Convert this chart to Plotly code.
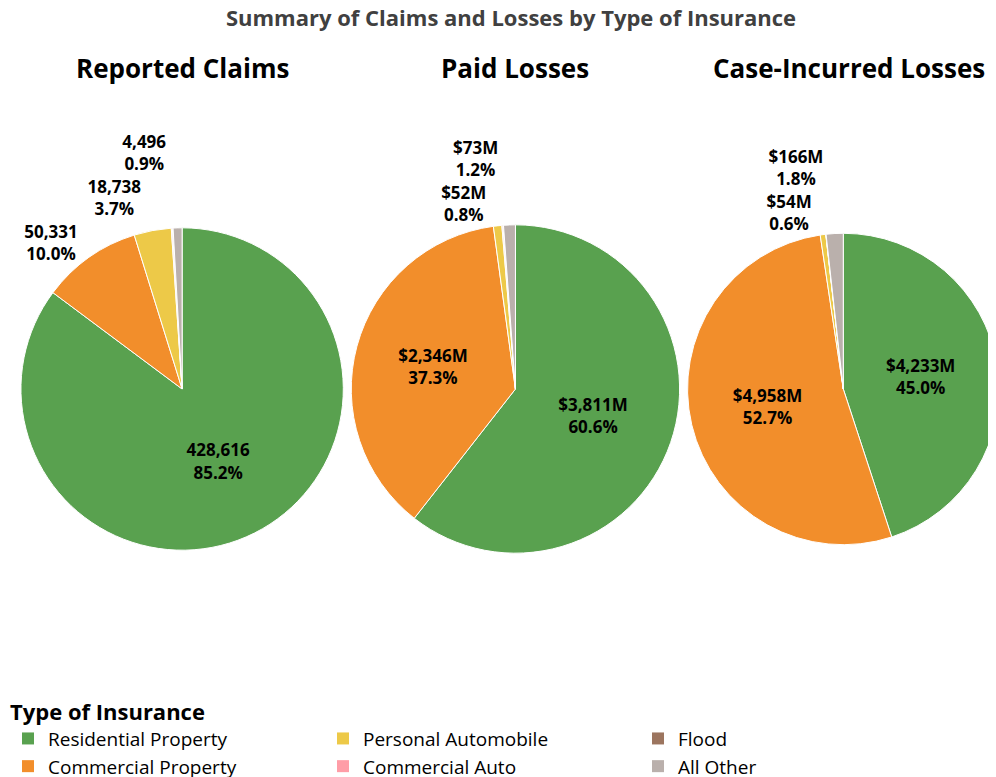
import plotly.graph_objects as go

# Categories in slice order (clockwise from 12 o'clock)
categories = ["Residential Property", "Commercial Property", "Personal Automobile",
              "Commercial Auto", "Flood", "All Other"]
colors = ["#59A14F", "#F28E2B", "#EDC948", "#FF9DA7", "#9C755F", "#BAB0AC"]

# Legend order (3 columns, filled row by row)
legend_order = ["Residential Property", "Personal Automobile", "Flood",
                "Commercial Property", "Commercial Auto", "All Other"]

reported_claims = [428616, 50331, 18738, 520, 380, 4496]
paid_losses = [3811, 2346, 52, 6, 4, 73]              # $M
case_incurred_losses = [4233, 4958, 54, 2, 1, 166]    # $M

panel_titles = ["Reported Claims", "Paid Losses", "Case-Incurred Losses"]

FONT = "Open Sans"
W, H = 996, 777
B = 110           # bottom margin, larger than the legend push
PH = H - B        # plot area height
DY = 7            # plot area comes out a few px lower than asked


def make_labels(values, money):
    total = sum(values)
    text, templates, positions = [], [], []
    for v in values:
        text.append(f"${v:,}M" if money else f"{v:,}")
        share = v / total
        if share < 0.003:
            templates.append("")
            positions.append("none")
        else:
            # colour set on the span; the outside font colour (white) is only
            # used for the connector lines, which then vanish on the background
            templates.append('<span style="color:black"><b>%{text}<br>%{percent:.1%}</b></span>')
            positions.append("inside" if share > 0.15 else "outside")
    return text, templates, positions


def py(px):
    """pixel row (from top of figure) -> paper fraction"""
    return 1 - (px - DY) / PH


fig = go.Figure()

# tiny helper pie that only fixes the legend order
fig.add_trace(go.Pie(
    labels=legend_order,
    values=[1] * len(legend_order),
    marker=dict(colors=[colors[categories.index(c)] for c in legend_order]),
    domain=dict(x=[0.9995, 1], y=[0.9995, 1]),
    textinfo="none",
    hoverinfo="skip",
    sort=False,
))

domains_x = [[13 / W, 337 / W], [345 / W, 675 / W], [683 / W, 1.0]]
domain_y = [py(553), py(223)]

for vals, money, dx in zip(
    [reported_claims, paid_losses, case_incurred_losses],
    [False, True, True],
    domains_x,
):
    text, templates, positions = make_labels(vals, money)
    fig.add_trace(go.Pie(
        labels=categories,
        values=vals,
        text=text,
        texttemplate=templates,
        textposition=positions,
        insidetextorientation="horizontal",
        insidetextfont=dict(family=FONT, size=17, color="black"),
        outsidetextfont=dict(family=FONT, size=17, color="white"),
        marker=dict(colors=colors, line=dict(color="white", width=1)),
        sort=False,
        direction="clockwise",
        rotation=0,
        domain=dict(x=dx, y=domain_y),
        hovertemplate="%{label}: %{text} (%{percent:.1%})<extra></extra>",
    ))

annotations = []
for title, cx in zip(panel_titles, [175, 510, 845]):
    annotations.append(dict(
        text=f"<b>{title}</b>",
        x=cx / W, y=py(67),
        xref="paper", yref="paper",
        xanchor="center", yanchor="middle",
        showarrow=False,
        font=dict(family=FONT, size=26, color="black"),
    ))

fig.update_layout(
    width=W,
    height=H,
    margin=dict(l=0, r=0, t=0, b=B),
    paper_bgcolor="white",
    font=dict(family=FONT, color="black"),
    title=dict(
        text="<b>Summary of Claims and Losses by Type of Insurance</b>",
        x=503 / W, xanchor="center",
        y=1 - 10 / H, yanchor="middle",
        font=dict(family=FONT, size=22, color="#404040"),
    ),
    annotations=annotations,
    legend=dict(
        title=dict(text="<b>Type of Insurance</b>", side="top",
                   font=dict(family=FONT, size=22, color="black")),
        orientation="h",
        xref="container", yref="container",
        x=-3 / W, xanchor="left",
        y=1 - 683 / H, yanchor="top",
        entrywidth=270, entrywidthmode="pixels",
        font=dict(family=FONT, size=19, color="black"),
        traceorder="normal",
    ),
)

fig.write_html("out.html")
